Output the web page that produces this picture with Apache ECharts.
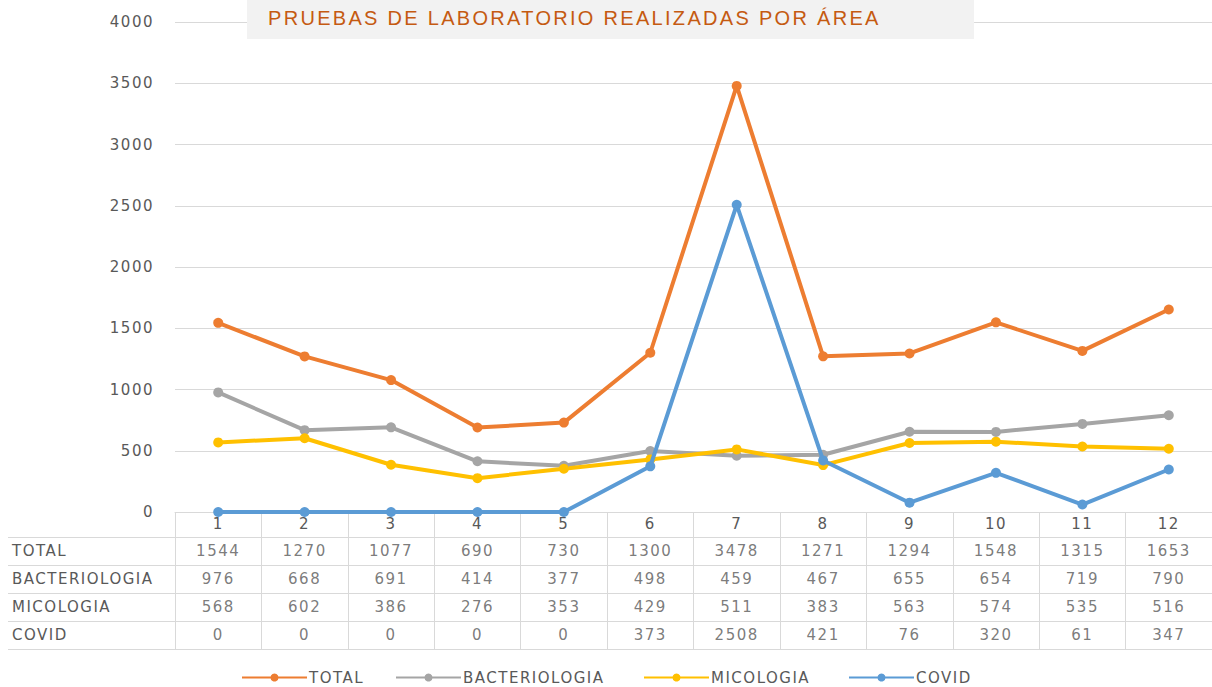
<!DOCTYPE html>
<html>
<head>
<meta charset="utf-8">
<script src="https://cdn.jsdelivr.net/npm/echarts@6/dist/echarts.min.js"></script>
<style>
  html, body { margin: 0; padding: 0; background: #fff; }
  #grafico { width: 1212px; height: 687px; }
  /* el original esta estirado a lo ancho */
  #grafico svg text { letter-spacing: 1.5px; }
  #grafico svg text[style*="Liberation"],
  #grafico svg text[font-family*="Liberation"] { letter-spacing: 2.3px; }
</style>
</head>
<body>
<div id="grafico"></div>
<script>
// datos por mes
var meses = ['1', '2', '3', '4', '5', '6', '7', '8', '9', '10', '11', '12'];
var total = [1544, 1270, 1077, 690, 730, 1300, 3478, 1271, 1294, 1548, 1315, 1653];
var bacteriologia = [976, 668, 691, 414, 377, 498, 459, 467, 655, 654, 719, 790];
var micologia = [568, 602, 386, 276, 353, 429, 511, 383, 563, 574, 535, 516];
var covid = [0, 0, 0, 0, 0, 373, 2508, 421, 76, 320, 61, 347];
var filas = ['TOTAL', 'BACTERIOLOGIA', 'MICOLOGIA', 'COVID'];
var colores = ['#ED7D31', '#A5A5A5', '#FFC000', '#5B9BD5'];

var fuente = '"DejaVu Sans"';
var gris = '#595959';
var linea = '#d9d9d9';

document.addEventListener('DOMContentLoaded', function () {
    var chartDom = document.getElementById('grafico');
    var myChart = echarts.init(chartDom, null, { renderer: 'svg' });
    var valores = [total, bacteriologia, micologia, covid];

    var series = filas.map(function (nombre, k) {
        return {
            name: nombre,
            type: 'line',
            xAxisIndex: 0,
            yAxisIndex: 0,
            data: valores[k],
            symbol: 'circle',
            symbolSize: 10,
            z: k === 3 ? 4 : 3,
            lineStyle: { width: 4, color: colores[k] },
            itemStyle: { color: colores[k] }
        };
    });

    // celdas de la tabla de datos
    filas.forEach(function (nombre, k) {
        series.push({
            type: 'scatter',
            xAxisIndex: 1,
            yAxisIndex: 1,
            symbolSize: 0,
            silent: true,
            data: valores[k].map(function (v, i) { return [i, nombre, v]; }),
            label: {
                show: true,
                position: 'inside',
                formatter: function (p) { return p.value[2]; },
                color: gris,
                textBorderWidth: 0,
                fontFamily: fuente,
                fontSize: 15
            }
        });
    });

    var leyendaX = [236, 390, 638, 843];
    var leyendas = filas.map(function (nombre, k) {
        return {
            data: [nombre],
            left: leyendaX[k],
            top: 665,
            itemWidth: 65,
            itemHeight: 10,
            textStyle: { color: gris, fontFamily: fuente, fontSize: 15, padding: [0, 0, 0, -3] }
        };
    });

    var option = {
        animation: false,
        title: {
            text: 'PRUEBAS DE LABORATORIO REALIZADAS POR ÁREA',
            left: 247,
            top: 0,
            backgroundColor: '#f2f2f2',
            padding: [7, 190, 10, 21],
            textStyle: {
                color: '#C55A11',
                fontFamily: '"Liberation Sans"',
                fontWeight: 'normal',
                fontSize: 20,
                lineHeight: 22
            }
        },
        legend: leyendas,
        grid: [
            { left: 175, width: 1048, top: 22, height: 490 },
            { left: 175, width: 1048, top: 537, height: 112 }
        ],
        xAxis: [
            {
                type: 'category',
                gridIndex: 0,
                data: meses,
                axisLine: { lineStyle: { color: linea, width: 1 } },
                axisTick: { show: true, length: 25, lineStyle: { color: linea } },
                axisLabel: { color: gris, fontFamily: fuente, fontSize: 15, margin: 4 }
            },
            {
                type: 'category',
                gridIndex: 1,
                data: meses,
                axisLine: { show: false },
                axisTick: { show: false },
                axisLabel: { show: false },
                splitLine: { show: true, lineStyle: { color: linea } }
            }
        ],
        yAxis: [
            {
                type: 'value',
                gridIndex: 0,
                min: 0,
                max: 4000,
                interval: 500,
                axisLine: { show: false },
                axisTick: { show: false },
                axisLabel: {
                    color: gris, fontFamily: fuente, fontSize: 15, margin: 21,
                    formatter: function (v) { return String(v); }
                },
                splitLine: { lineStyle: { color: linea } }
            },
            {
                type: 'category',
                gridIndex: 1,
                data: filas,
                inverse: true,
                axisLine: { show: true, lineStyle: { color: linea } },
                axisTick: { show: true, length: 167, lineStyle: { color: linea } },
                axisLabel: { color: gris, fontFamily: fuente, fontSize: 15, align: 'left', margin: 163 },
                splitLine: { show: true, lineStyle: { color: linea } }
            },
            {
                type: 'category',
                gridIndex: 1,
                data: filas,
                inverse: true,
                offset: 167,
                axisLine: { show: true, lineStyle: { color: linea } },
                axisTick: { show: false },
                axisLabel: { show: false }
            }
        ],
        series: series
    };

    option && myChart.setOption(option);
});
</script>
</body>
</html>
